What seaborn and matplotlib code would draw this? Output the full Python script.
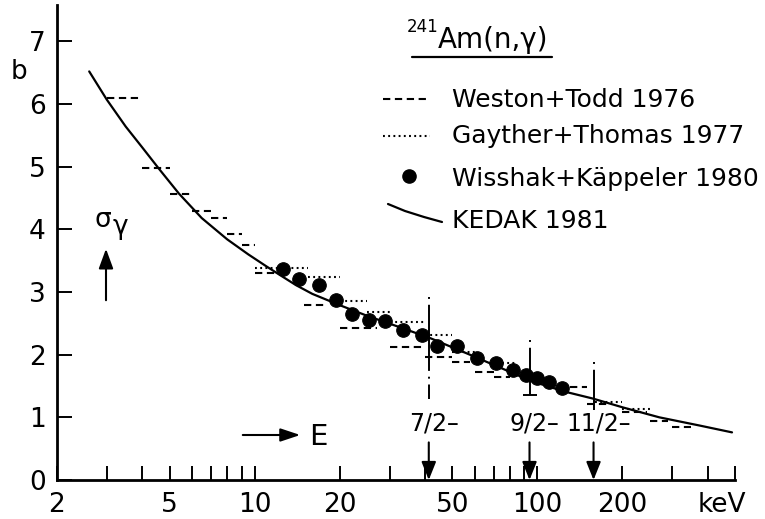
import matplotlib
matplotlib.use('Agg')
import matplotlib.pyplot as plt
import seaborn as sns
from matplotlib.lines import Line2D
from matplotlib.patches import FancyArrowPatch
from matplotlib.ticker import NullLocator

# 241Am(n,gamma) capture cross section, energies in keV, sigma in barn

# KEDAK 1981 evaluation (solid curve)
kedak_e = [2.6, 3.0, 3.5, 4.0, 4.6, 5.4, 6.5, 8.0, 9.5, 11, 12.5, 14, 16, 20,
           25, 33, 42, 57, 75, 95, 125, 157, 200, 270, 374, 488]
kedak_sig = [6.52, 6.07, 5.64, 5.31, 4.96, 4.57, 4.18, 3.84, 3.60, 3.41, 3.25,
             3.11, 2.97, 2.79, 2.62, 2.43, 2.26, 2.01, 1.78, 1.58, 1.41, 1.30,
             1.16, 1.00, 0.87, 0.76]

# Wisshak+Kaeppeler 1980 (dots)
wk_e = [12.6, 14.4, 16.9, 19.4, 22.1, 25.3, 28.8, 33.4, 39.0, 44.0, 51.8,
        61.0, 71.2, 81.7, 90.8, 100, 110, 122]
wk_sig = [3.37, 3.20, 3.11, 2.88, 2.65, 2.56, 2.53, 2.39, 2.31, 2.14, 2.14,
          1.95, 1.86, 1.75, 1.67, 1.63, 1.56, 1.47]

# Weston+Todd 1976 (dashed bins)
wt_lo = [3, 4, 5, 6, 7, 8, 9, 10, 15, 20, 30, 40, 50, 60, 70, 130, 150, 200, 250, 300]
wt_hi = [4, 5, 6, 7, 8, 9, 10, 12.5, 18, 27, 40, 50, 58, 70, 80, 150, 180, 245, 290, 350]
wt_sig = [6.09, 4.98, 4.56, 4.29, 4.18, 3.92, 3.75, 3.30, 2.80, 2.42, 2.12,
          1.96, 1.88, 1.73, 1.65, 1.48, 1.22, 1.09, 0.94, 0.84]

# Gayther+Thomas 1977 (dotted bins)
gt_lo = [10, 15.4, 20, 25, 30, 40, 50, 75, 160, 200]
gt_hi = [15.4, 20, 25, 30, 40, 50, 61, 85, 200, 250]
gt_sig = [3.39, 3.24, 2.85, 2.68, 2.52, 2.32, 2.04, 1.86, 1.25, 1.13]

# resonance spin groups
spin_e = [41.3, 93.8, 158]
spin_top = [2.92, 2.24, 1.88]
spin_bot = [1.30, 1.35, 1.11]
spin_lbl = ['7/2\u2013', '9/2\u2013', '11/2\u2013']

x_ticks = [2, 3, 4, 5, 6, 7, 8, 9, 10, 20, 30, 40, 50, 60, 70, 80, 90,
           100, 200, 300, 400, 500]
x_labeled = {2: '2', 5: '5', 10: '10', 20: '20', 50: '50', 100: '100', 200: '200'}
y_ticks = [0, 1, 2, 3, 4, 5, 6, 7]

legend_lbl = ['Weston+Todd 1976', 'Gayther+Thomas 1977',
              'Wisshak+K\u00e4ppeler 1980', 'KEDAK 1981']

W, H = 765, 519


def fp(x, y):
    # pixel position -> figure fraction
    return (x / W, 1 - y / H)


sns.set_style('ticks')
plt.rcParams['font.family'] = ['DejaVu Sans']
for k in ['text.color', 'axes.labelcolor', 'xtick.color', 'ytick.color',
          'axes.edgecolor']:
    plt.rcParams[k] = 'black'

fig = plt.figure(figsize=(W / 100, H / 100), dpi=100)
ax = fig.add_axes([57 / W, 39 / H, (735 - 57) / W, (480 - 5) / H])
ax.set_xscale('log')

lw = 1.5
dash = (0, (3.5, 2.2))
dots = (0, (0.9, 1.6))
ax.hlines(wt_sig, wt_lo, wt_hi, colors='black', linewidth=lw, linestyles=[dash])
ax.hlines(gt_sig, gt_lo, gt_hi, colors='black', linewidth=lw, linestyles=[dots])
sns.lineplot(x=kedak_e, y=kedak_sig, ax=ax, color='black', linewidth=1.6,
             sort=True, estimator=None)
sns.scatterplot(x=wk_e, y=wk_sig, ax=ax, s=95, color='black',
                edgecolor='black', zorder=4)

for e, top, bot, lbl in zip(spin_e, spin_top, spin_bot, spin_lbl):
    ax.plot([e, e], [top, bot], color='black', linewidth=1.4,
            linestyle=(0, (1, 3, 34, 3)))
    ax.annotate(lbl, xy=(e, 0.90), xytext=(5, 0), textcoords='offset pixels',
                ha='center', va='center', fontsize=17)
    ax.annotate('', xy=(e, 0), xytext=(e, 0.60),
                arrowprops=dict(arrowstyle='-|>,head_length=0.55,head_width=0.22',
                                color='black', lw=1.5, mutation_scale=20,
                                shrinkA=0, shrinkB=0))
ax.plot([spin_e[1]], [spin_bot[1]], marker='_', markersize=10,
        markeredgewidth=1.4, color='black')

ax.set_xlim(2, 500)
ax.set_ylim(0, 7.58)
ax.set_xticks(x_ticks)
ax.set_xticklabels([x_labeled.get(t, '') for t in x_ticks])
ax.xaxis.set_minor_locator(NullLocator())
ax.set_yticks(y_ticks)
ax.set_yticklabels([str(t) for t in y_ticks])
ax.tick_params(axis='x', direction='in', length=10, width=1.4, pad=9,
               labelsize=19)
ax.tick_params(axis='y', direction='in', length=11, width=1.4, pad=8,
               labelsize=19)
ax.set_xlabel('')
ax.set_ylabel('')
sns.despine(ax=ax)
for s in ['left', 'bottom']:
    ax.spines[s].set_linewidth(2)

ax.annotate('keV', xy=(448, 0), xycoords=('data', 'axes fraction'),
            xytext=(0, -9), textcoords='offset points', ha='center', va='top',
            fontsize=19)

# axis annotations
fig.text(*fp(19, 72), 'b', fontsize=19, ha='center', va='center')
fig.text(*fp(94, 227), '\u03c3', fontsize=19, ha='left', va='baseline')
fig.text(*fp(113, 234), '\u03b3', fontsize=19, ha='left', va='baseline')
fig.add_artist(FancyArrowPatch(
    fp(106, 303), fp(106, 246), transform=fig.transFigure,
    arrowstyle='-|>,head_length=0.6,head_width=0.22', mutation_scale=20,
    color='black', lw=1.5))
fig.add_artist(FancyArrowPatch(
    fp(240, 435), fp(303, 435), transform=fig.transFigure,
    arrowstyle='-|>,head_length=0.6,head_width=0.2', mutation_scale=20,
    color='black', lw=1.5))
fig.text(*fp(309, 445), 'E', fontsize=21, ha='left', va='baseline')

# legend block
fig.text(*fp(407, 32), '241', fontsize=12, ha='left', va='baseline')
fig.text(*fp(438, 48), 'Am(n,\u03b3)', fontsize=20, ha='left', va='baseline')
fig.add_artist(Line2D([412 / W, 552 / W], [1 - 57 / H, 1 - 57 / H],
                      color='black', lw=1.6, transform=fig.transFigure))

fig.add_artist(Line2D([383 / W, 428 / W], [1 - 99 / H, 1 - 99 / H],
                      color='black', lw=lw, linestyle=dash,
                      transform=fig.transFigure))
fig.add_artist(Line2D([383 / W, 430 / W], [1 - 136 / H, 1 - 136 / H],
                      color='black', lw=lw, linestyle=dots,
                      transform=fig.transFigure))
fig.add_artist(Line2D([409 / W], [1 - 176 / H], color='black', marker='o',
                      markersize=9.5, linestyle='none',
                      transform=fig.transFigure))
fig.add_artist(Line2D([388 / W, 405 / W, 424 / W, 442 / W],
                      [1 - 204 / H, 1 - 211 / H, 1 - 217 / H, 1 - 222 / H],
                      color='black', lw=1.6, transform=fig.transFigure))

legend_base = [107, 143, 186, 228]
for lbl, yb in zip(legend_lbl, legend_base):
    fig.text(*fp(452, yb), lbl, fontsize=18, ha='left', va='baseline')

fig.savefig('out.png', dpi=100)
